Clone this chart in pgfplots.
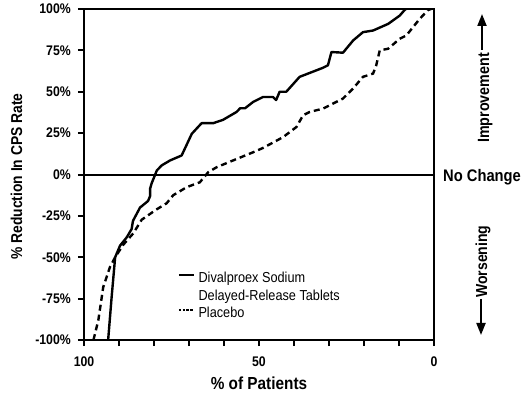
\documentclass[border=0pt]{standalone}
\usepackage{fontspec}
\setmainfont{Liberation Sans}[FakeStretch=0.88]
\usepackage{pgfplots}
\pgfplotsset{compat=1.18}
\usetikzlibrary{arrows.meta}
\begin{document}
\begin{tikzpicture}
\useasboundingbox (-84bp,-56bp) rectangle (442bp,340bp);
\begin{axis}[
  at={(0,0)}, anchor=south west,
  scale only axis, width=350bp, height=331bp,
  x dir=reverse,
  xmin=0, xmax=100, ymin=-100, ymax=100,
  axis line style={line width=2.5bp, black},
  xtick={0,50,100}, xticklabels={0,50,100},
  minor xtick={10,20,30,40,60,70,80,90},
  ytick={-100,-75,-50,-25,0,25,50,75,100},
  yticklabels={-100\%,-75\%,-50\%,-25\%,0\%,25\%,50\%,75\%,100\%},
  xtick pos=bottom, ytick pos=left,
  tick align=outside,
  major tick length=6bp, minor tick length=6bp,
  every tick/.style={line width=2bp, black},
  /pgf/number format/assume math mode=true,
  tick label style={font=\fontsize{14}{14}\selectfont\bfseries, inner sep=0pt},
  yticklabel style={anchor=east, xshift=-7bp},
  xticklabel style={anchor=north, yshift=-11bp},
  xlabel={\% of Patients},
  ylabel={\% Reduction In CPS Rate},
  xlabel style={at={(axis description cs:0.5,-0.151)}, anchor=base, inner sep=0pt, font=\fontsize{17.5}{17.5}\selectfont\bfseries},
  ylabel style={at={(axis description cs:-0.177,0.494)}, anchor=base, inner sep=0pt, font=\fontsize{15.8}{15.8}\selectfont\bfseries},
  legend style={at={(axis description cs:0.2686,0.2115)}, anchor=north west, draw=none, fill=none, inner sep=0pt, row sep=0pt, column sep=2bp,
    font=\fontsize{14.5}{17}\selectfont,
    nodes={text height=10.5bp, text depth=3bp, inner sep=2bp}},
  legend cell align=left,
  legend image code/.code={\draw[#1, line width=1.3bp] (0bp,4bp) -- (15bp,4bp);},
]
\addplot[black, line width=2bp, forget plot] coordinates {(100,0) (0,0)};
\addplot[black, line width=2.4bp, line join=round] coordinates {
(93.1,-100) (92.1,-74) (91.1,-50) (89.7,-43) (87.8,-38) (86.4,-33) (86,-28)
(84,-20) (81.7,-16) (81.1,-13) (81.1,-8.5) (80.7,-5.5) (79.2,2.4) (77.8,5.5)
(75.4,8.5) (72.1,11.5) (69.2,24.6) (66.4,31) (63.1,31) (60.3,33) (56.4,37.8)
(55.4,40) (54,40) (51.7,43.8) (48.9,46.8) (46,46.8) (45.1,45) (44.1,50)
(42.2,50) (38.4,59) (31.7,64.5) (30.3,66) (29.3,74) (26,73.6) (23.1,81)
(20.3,86) (17.4,87) (13.1,91) (9.8,96) (8.4,99.4) (8,100)
};
\addlegendentry{Divalproex Sodium}
\addlegendimage{empty legend}
\addlegendentry{Delayed-Release Tablets}
\addplot[black, line width=2.4bp, dash pattern=on 6bp off 4bp,
  legend image code/.code={\draw[black, line width=1.3bp, dash pattern=on 2.5bp off 1.3bp] (0bp,4bp) -- (15bp,4bp);}]
  coordinates {
(97.3,-100) (95.9,-88) (94.5,-68) (92.6,-56) (91.1,-50) (88.8,-42.5) (85.9,-35.5)
(83.5,-27.3) (79.2,-21) (76.4,-17.4) (74.5,-12.5) (70.7,-7.7) (66.9,-4.7) (64.5,1.4)
(62.1,4.4) (57.4,8.5) (51.6,13.5) (48.9,16) (43.1,22.6) (39.3,28.7) (37.4,35.8)
(35.5,37.8) (31.7,39.8) (28.9,42.8) (26,45.9) (23.1,52) (20.3,59) (17.4,61)
(16.5,66) (15.5,75) (13.1,76) (9.8,82) (7.9,84) (6,89) (4.1,94) (1.7,99.4) (0.8,100)
};
\addlegendentry{Placebo}
\end{axis}
\node[anchor=base west, inner sep=0pt, font=\fontsize{16.8}{16.8}\selectfont\bfseries] at (359bp,158bp) {No Change};
\node[anchor=base west, rotate=90, inner sep=0pt, font=\fontsize{16.3}{16.3}\selectfont\bfseries] at (405bp,197bp) {Improvement};
\node[anchor=base west, rotate=90, inner sep=0pt, font=\fontsize{16}{16}\selectfont\bfseries] at (403bp,42bp) {Worsening};
\draw[line width=2bp, -{Triangle[width=9bp,length=12bp]}] (398bp,290bp) -- (398bp,326bp);
\draw[line width=2bp, -{Triangle[width=9bp,length=12bp]}] (397bp,41bp) -- (397bp,5bp);
\end{tikzpicture}
\end{document}
